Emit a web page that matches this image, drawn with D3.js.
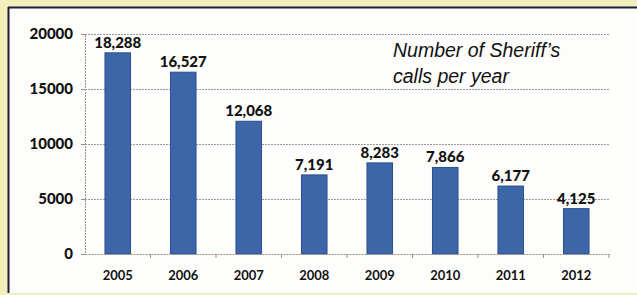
<!DOCTYPE html>
<html><head><meta charset="utf-8">
<script src="https://cdn.jsdelivr.net/npm/d3@7"></script>
<style>html,body{margin:0;padding:0;background:#f3efbb;}svg{display:block;}</style>
</head><body>
<script>
const years = ["2005","2006","2007","2008","2009","2010","2011","2012"];
const calls = [18288,16527,12068,7191,8283,7866,6177,4125];
const yTicks = [0,5000,10000,15000,20000];
const titleLines = ["Number of Sheriff\u2019s","calls per year"];

const W = 637, H = 295;
const svg = d3.select("body").append("svg").attr("width",W).attr("height",H);
svg.append("rect").attr("width",W).attr("height",H).attr("fill","#f3efbb");
// white panel with dark border
svg.append("rect").attr("x",8).attr("y",7).attr("width",W).attr("height",286).attr("fill","#fdfdfb");
svg.append("line").attr("x1",8).attr("x2",W).attr("y1",7.5).attr("y2",7.5).attr("stroke","#1d1d3a").attr("stroke-width",2);
svg.append("line").attr("x1",8.5).attr("x2",8.5).attr("y1",7).attr("y2",293).attr("stroke","#1d1d3a").attr("stroke-width",2);

const x0 = 85, x1 = 609, yTop = 34, yBot = 254;
const x = d3.scaleBand().domain(years).range([x0,x1]).paddingInner(0.61).paddingOuter(0.305);
const y = d3.scaleLinear().domain([0,20000]).range([yBot,yTop]);

// gridlines
svg.append("g").selectAll("line").data(yTicks.filter(d=>d>0)).join("line")
  .attr("x1",x0).attr("x2",x1).attr("y1",d=>y(d)+0.5).attr("y2",d=>y(d)+0.5)
  .attr("stroke","#9a9a9a").attr("stroke-width",1).attr("stroke-dasharray","2,1");

// bars
svg.append("g").selectAll("rect").data(calls).join("rect")
  .attr("x",(d,i)=>x(years[i])).attr("width",x.bandwidth())
  .attr("y",d=>y(d)).attr("height",d=>yBot-y(d))
  .attr("fill","#3d66a8").attr("stroke","#2a4f8f").attr("stroke-width",1);

// y axis
const ya = svg.append("g").attr("transform",`translate(${x0},0)`)
  .call(d3.axisLeft(y).tickValues(yTicks).tickSize(4).tickPadding(8).tickFormat(d3.format("d")));
ya.select(".domain").attr("stroke","#a08f86").attr("stroke-dasharray","2,1");
ya.selectAll(".tick line").attr("stroke","#a08f86");
ya.selectAll("text").attr("font-family","Lato, 'DejaVu Sans', sans-serif").attr("font-weight","900")
  .attr("font-size","15px").attr("fill","#111");

// x axis
const xa = svg.append("g").attr("transform",`translate(0,${yBot})`)
  .call(d3.axisBottom(x).tickSize(0).tickPadding(17));
xa.select(".domain").attr("stroke","#a08f86").attr("stroke-dasharray","2,1");
xa.selectAll("text").attr("font-family","Lato, 'DejaVu Sans', sans-serif").attr("font-weight","700")
  .attr("font-size","13px").attr("fill","#111");
// ticks at band boundaries
const bounds = years.map(d=>x(d)-x.step()*x.paddingInner()/2).slice(1).concat([x1]);
svg.append("g").selectAll("line").data(bounds).join("line")
  .attr("x1",d=>d).attr("x2",d=>d).attr("y1",yBot).attr("y2",yBot+4)
  .attr("stroke","#a08f86");

// value labels
svg.append("g").selectAll("text").data(calls).join("text")
  .attr("x",(d,i)=>x(years[i])+x.bandwidth()/2).attr("y",d=>y(d)-5)
  .attr("text-anchor","middle")
  .attr("font-family","Lato, 'DejaVu Sans', sans-serif").attr("font-weight","900")
  .attr("font-size","15px").attr("fill","#111")
  .text(d=>d3.format(",")(d));

// title
svg.append("g").selectAll("text").data(titleLines).join("text")
  .attr("x",393).attr("y",(d,i)=>57+i*26)
  .attr("font-family","'Liberation Sans', Arial, sans-serif").attr("font-style","italic")
  .attr("font-size","19.5px").attr("fill","#111")
  .text(d=>d);
</script>
</body></html>
